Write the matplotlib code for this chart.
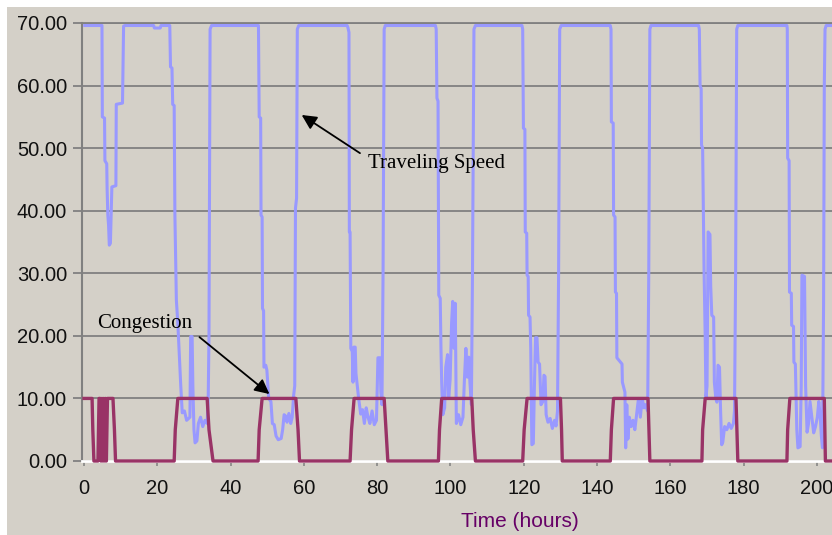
import numpy as np
import matplotlib.pyplot as plt
from matplotlib.patches import Rectangle

# Traveling speed (hours, value)
speed_t = [0.2, 4.9, 5.0, 5.6, 5.7, 6.2, 6.3, 6.5, 6.7, 6.9, 7.2, 7.4, 7.6, 8.7, 8.8, 10.5, 10.8, 11.2,
           19.0, 19.2, 20.8, 21.0, 23.4, 23.6, 24.0, 24.2, 24.6, 24.8, 25.2, 25.6, 26.0, 26.4, 26.8,
           27.4, 28.0, 28.9, 29.1, 29.5, 29.7, 30.0, 30.3, 30.8, 31.2, 31.8, 32.4, 33.0, 33.6, 33.9,
           34.1, 34.2, 34.4, 34.8,
           47.6, 47.8, 48.2, 48.3, 48.6, 48.7, 49.0, 49.1, 49.6, 49.9, 50.4, 51.0, 51.4, 51.9, 52.4,
           53.0, 53.8, 54.2, 54.6, 55.0, 55.4, 55.9, 56.4, 56.8, 57.2, 57.5, 57.7, 58.0, 58.2, 58.6,
           71.8, 72.0, 72.3, 72.4, 72.6, 72.8, 73.2, 73.4, 73.6, 74.0, 74.2, 74.6, 75.0, 75.5, 76.0,
           76.5, 77.0, 77.5, 78.0, 78.6, 79.2, 79.8, 80.2, 80.8, 81.0, 81.3, 81.6, 81.9, 82.2,
           95.9, 96.1, 96.3, 96.6, 96.8, 97.2, 97.4, 97.6, 97.9, 98.4, 98.7, 99.2, 99.5, 99.9, 100.3,
           100.6, 101.0, 101.3, 101.6, 102.2, 102.8, 103.4, 103.8, 104.2, 104.6, 105.0, 105.3, 105.7,
           106.0, 106.4, 106.8,
           119.5, 119.7, 119.9, 120.3, 120.4, 120.8, 120.9, 121.2, 121.3, 121.7, 121.9, 122.2, 122.6,
           122.9, 123.2, 123.6, 123.9, 124.3, 124.7, 125.2, 125.5, 125.8, 126.1, 126.6, 127.2, 127.8,
           128.4, 128.8, 129.2, 129.5, 129.8, 130.2,
           143.6, 143.8, 143.9, 144.4, 144.5, 144.9, 145.0, 145.3, 145.4, 146.8, 146.9, 147.6, 147.8,
           148.1, 148.4, 148.8, 149.3, 149.8, 150.3, 150.8, 151.3, 151.8, 152.3, 152.8, 153.2, 153.8,
           154.1, 154.4, 154.7,
           167.7, 167.9, 168.1, 168.4, 168.5, 168.8, 169.0, 169.2, 169.5, 169.7, 170.0, 170.3, 170.8,
           171.0, 171.3, 171.8, 172.0, 172.4, 172.7, 173.0, 173.4, 173.7, 174.0, 174.3, 174.8, 175.4,
           176.0, 176.6, 177.2, 177.5, 177.8, 178.1, 178.4,
           191.8, 191.9, 192.0, 192.4, 192.5, 193.0, 193.1, 193.6, 193.7, 194.1, 194.5, 194.8, 195.4,
           195.7, 195.9, 196.6, 196.9, 197.3, 197.7, 198.1, 198.6, 199.1, 199.6, 200.1, 200.5, 200.9,
           201.2, 201.5, 201.8, 202.0, 202.2, 202.5, 204.5]
speed_v = [69.6, 69.6, 55, 54.8, 48, 47.5, 43.6, 39.3, 37.7, 34.5, 34.8, 39.3, 43.8, 44.0, 57, 57.2, 69.5, 69.6,
           69.6, 69.2, 69.2, 69.6, 69.6, 63, 62.8, 57, 56.8, 39.3, 25.7, 22, 17, 12, 7.7,
           8.0, 6.5, 7.0, 19.9, 19.9, 12, 5, 2.9, 3.2, 6.0, 7.0, 5.5, 6.5, 6.0, 10.5,
           20, 37, 69, 69.6,
           69.6, 55, 54.8, 39.3, 39, 24.4, 24, 15, 15.3, 14.5, 10, 9.5, 6, 5.8, 4,
           3.4, 3.6, 5, 7.4, 7.2, 6.2, 7.6, 6.0, 7.0, 10.5, 12, 40.4, 42, 69, 69.6,
           69.6, 69.3, 68.5, 36.6, 36.6, 18, 17.5, 12.6, 18.2, 18.2, 14, 11.8, 9.7, 7.5, 8.2,
           6.0, 8.5, 7.0, 6.0, 8.0, 5.8, 6.5, 16.5, 16.5, 11, 9, 30, 69, 69.6,
           69.6, 69, 58, 57.5, 26.5, 26, 18, 12.6, 7.4, 8.5, 15, 17, 10, 13, 22,
           25.5, 18, 25.2, 6, 7.4, 5.8, 7.0, 13, 18, 13.4, 16.6, 12.6, 9,
           30, 69, 69.6,
           69.6, 69, 53.2, 53, 36.6, 36.4, 29.7, 29.5, 23.3, 23, 18, 2.6, 2.8,
           12, 19.7, 19.7, 15.8, 15.5, 9, 9.5, 13.7, 13.5, 7.4, 6.2, 6.8, 5.2,
           6.5, 5.6, 8, 30, 69, 69.6,
           69.6, 69, 54.2, 54, 39.3, 39, 27, 26.8, 16.5, 15.5, 12.6, 11, 2.1,
           9, 3.5, 7, 5.5, 6.5, 5.0, 7.5, 10, 7.0, 10, 8.5, 9.0, 8.0,
           30, 69, 69.6,
           69.6, 69, 60, 59.5, 50.5, 50, 40, 30, 20, 10, 12, 36.6, 36.2,
           28, 23.3, 23, 12.6, 10, 9.4, 15.3, 15, 8, 2.6, 3, 5.5, 5.0,
           6.0, 5.2, 6.0, 8, 30, 69, 69.6,
           69.6, 69, 48.4, 48, 27, 26.8, 21.7, 21.5, 15.8, 15.5, 5, 2.1, 2.3,
           12, 29.7, 29.5, 12, 4.6, 6, 9.5, 7, 4.5, 5.5, 7.0, 9.5, 7,
           4.0, 2.1, 25, 60, 69, 69.6, 69.6]

# Congestion level (hours, value)
cong_t = [0, 0.8, 2.2, 2.4, 2.7, 3.8, 4.1, 4.4, 4.6, 4.9, 5.1, 5.4, 5.6, 5.9, 6.1, 6.4, 6.7, 7.9, 8.3, 8.6,
          24.6, 24.9, 25.6, 33.6, 34.1, 35.2, 47.5, 47.8, 48.6, 57.8, 58.4, 58.8,
          72.6, 73.0, 73.7, 81.9, 82.4, 82.9, 96.7, 97.0, 97.6, 105.8, 106.2, 106.8,
          119.7, 120.1, 120.9, 130.0, 130.3, 130.5, 143.6, 143.9, 144.5, 153.9, 154.4,
          168.6, 168.8, 169.5, 177.9, 178.4, 191.8, 192.0, 192.6, 202.0, 202.3, 204.5]
cong_v = [10, 10, 10, 5, 0, 0, 10, 10, 0, 10, 0, 10, 0, 10, 0, 10, 10, 10, 5, 0,
          0, 5, 10, 10, 5, 0, 0, 5, 10, 10, 5, 0,
          0, 5, 10, 10, 5, 0, 0, 5, 10, 10, 5, 0,
          0, 5, 10, 10, 5, 0, 0, 5, 10, 10, 0,
          0, 5, 10, 10, 0, 0, 5, 10, 10, 0, 0]

x_ticks = np.arange(0, 201, 20)
y_ticks = np.arange(0, 71, 10)

bg = '#d4d0c8'
fig = plt.figure(figsize=(8.32, 5.35), dpi=100, facecolor='white')
fig.add_artist(Rectangle((7 / 832, 0), 1, 1 - 7 / 535, transform=fig.transFigure,
                         facecolor=bg, edgecolor='none', zorder=0))
ax = fig.add_axes([82 / 832, 74 / 535, 750 / 832, 438 / 535])
ax.set_facecolor(bg)

ax.plot(speed_t, speed_v, color='#9999ff', lw=2.2, zorder=3, clip_on=False)
ax.plot(cong_t, cong_v, color='#993366', lw=2.4, zorder=4, clip_on=False)

ax.set_xlim(-0.55, 204.1)
ax.set_ylim(0, 70)
ax.set_xticks(x_ticks)
ax.set_yticks(y_ticks)
ax.yaxis.set_major_formatter(plt.FormatStrFormatter('%.2f'))

ax.set_axisbelow(True)
ax.yaxis.grid(True, color='#808080', lw=1.3)
for s in ['right']:
    ax.spines[s].set_visible(False)
ax.spines['top'].set_color('#808080')
ax.spines['top'].set_linewidth(1.3)
ax.spines['left'].set_color('#808080')
ax.spines['left'].set_linewidth(1.5)
ax.spines['bottom'].set_color('white')
ax.spines['bottom'].set_linewidth(2)

ax.tick_params(axis='y', length=6.5, width=1.3, color='#808080', pad=4.3,
               labelsize=14.5, labelcolor='#111111', labelfontfamily='Liberation Sans')
ax.tick_params(axis='x', length=3.6, width=1.1, color='#808080', pad=9,
               labelsize=14.5, labelcolor='#111111', labelfontfamily='Liberation Sans')

ax.set_xlabel('Time (hours)', fontsize=15, color='#660066', family='Liberation Sans')
ax.xaxis.label.set_va('center')
ax.xaxis.set_label_coords(0.584, -0.137)

# annotations
arrow = dict(arrowstyle='-|>', color='black', lw=1.3, mutation_scale=22, shrinkA=0, shrinkB=0)
ax.annotate('', xy=(59.4, 55.3), xytext=(75.3, 49.2), arrowprops=arrow, zorder=5)
ax.text(77.5, 46.75, 'Traveling Speed', family='Liberation Serif', fontsize=15,
        ha='left', va='baseline', zorder=5)
ax.annotate('', xy=(50.6, 10.7), xytext=(31.5, 19.8), arrowprops=arrow, zorder=5)
ax.text(3.5, 21.2, 'Congestion', family='Liberation Serif', fontsize=15,
        ha='left', va='baseline', zorder=5)

fig.savefig('out.png', dpi=100, facecolor=fig.get_facecolor())
